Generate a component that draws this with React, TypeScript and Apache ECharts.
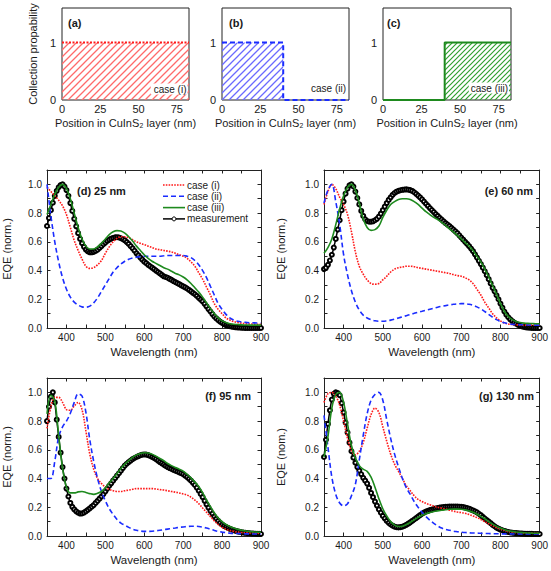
import React, { useEffect, useRef } from "react";
import * as echarts from "echarts";

// ---------- top panels: collection probability profiles ----------
const positionTicks = [0, 25, 50, 75];
const posA = [0, 83];
const probA = [1, 1];
const posB = [0, 40, 40, 83];
const probB = [1, 1, 0, 0];
const posC = [0, 40, 40, 83];
const probC = [0, 0, 1, 1];

// ---------- bottom panels: EQE spectra ----------
// simulated cases, read every 10 nm
const wavelengths = [
  350, 360, 370, 380, 390, 400, 410, 420, 430, 440,
  450, 460, 470, 480, 490, 500, 510, 520, 530, 540,
  550, 560, 570, 580, 590, 600, 610, 620, 630, 640,
  650, 660, 670, 680, 690, 700, 710, 720, 730, 740,
  750, 760, 770, 780, 790, 800, 810, 820, 830, 840,
  850, 860, 870, 880, 890, 900,
];
// measurement, read every 5 nm
const wavelengthsMeas = [
  350, 355, 360, 365, 370, 375, 380, 385, 390, 395,
  400, 405, 410, 415, 420, 425, 430, 435, 440, 445,
  450, 455, 460, 465, 470, 475, 480, 485, 490, 495,
  500, 505, 510, 515, 520, 525, 530, 535, 540, 545,
  550, 555, 560, 565, 570, 575, 580, 585, 590, 595,
  600, 605, 610, 615, 620, 625, 630, 635, 640, 645,
  650, 655, 660, 665, 670, 675, 680, 685, 690, 695,
  700, 705, 710, 715, 720, 725, 730, 735, 740, 745,
  750, 755, 760, 765, 770, 775, 780, 785, 790, 795,
  800, 805, 810, 815, 820, 825, 830, 835, 840, 845,
  850, 855, 860, 865, 870, 875, 880, 885, 890, 895,
  900,
];

// (d) 25 nm
const d25Measured = [
  0.71, 0.765, 0.82, 0.872, 0.92, 0.955, 0.98, 0.995, 1.0, 0.985,
  0.96, 0.92, 0.87, 0.815, 0.76, 0.708, 0.66, 0.62, 0.59, 0.565,
  0.545, 0.533, 0.527, 0.527, 0.53, 0.536, 0.545, 0.557, 0.57, 0.583,
  0.595, 0.606, 0.615, 0.622, 0.627, 0.631, 0.632, 0.63, 0.625, 0.618,
  0.61, 0.598, 0.585, 0.57, 0.555, 0.538, 0.52, 0.505, 0.49, 0.476,
  0.462, 0.451, 0.44, 0.43, 0.42, 0.41, 0.4, 0.39, 0.38, 0.37,
  0.36, 0.355, 0.35, 0.342, 0.335, 0.327, 0.32, 0.312, 0.305, 0.297,
  0.29, 0.283, 0.275, 0.265, 0.255, 0.245, 0.235, 0.223, 0.21, 0.198,
  0.185, 0.168, 0.15, 0.132, 0.115, 0.097, 0.08, 0.067, 0.055, 0.044,
  0.035, 0.027, 0.02, 0.016, 0.012, 0.009, 0.007, 0.005, 0.004, 0.003,
  0.002, 0.0015, 0.001, 0.0005, 0, 0, 0, 0, 0, 0,
  0,
];
const d25Case1 = [
  0.98, 0.95, 0.92, 0.89, 0.85, 0.79, 0.7, 0.61, 0.54, 0.48,
  0.43, 0.415, 0.42, 0.44, 0.47, 0.52, 0.565, 0.6, 0.625, 0.635,
  0.635, 0.628, 0.615, 0.6, 0.59, 0.58, 0.57, 0.56, 0.55, 0.545,
  0.54, 0.535, 0.53, 0.52, 0.51, 0.5, 0.485, 0.46, 0.43, 0.385,
  0.34, 0.285, 0.23, 0.17, 0.13, 0.1, 0.07, 0.055, 0.045, 0.038,
  0.034, 0.03, 0.028, 0.027, 0.026, 0.025,
];
const d25Case2 = [
  1.0, 0.78, 0.6, 0.46, 0.35, 0.27, 0.215, 0.18, 0.16, 0.147,
  0.145, 0.152, 0.175, 0.21, 0.255, 0.3, 0.345, 0.39, 0.42, 0.445,
  0.465, 0.478, 0.487, 0.493, 0.497, 0.5, 0.5, 0.5, 0.5, 0.5,
  0.503, 0.505, 0.505, 0.505, 0.505, 0.505, 0.5, 0.49, 0.47, 0.44,
  0.4, 0.35, 0.29, 0.23, 0.17, 0.13, 0.095, 0.07, 0.055, 0.047,
  0.042, 0.039, 0.037, 0.036, 0.035, 0.035,
];
const d25Case3 = [
  0.79, 0.86, 0.93, 0.98, 1.0, 0.97, 0.9, 0.8, 0.7, 0.62,
  0.57, 0.55, 0.55, 0.565, 0.59, 0.62, 0.65, 0.67, 0.678, 0.675,
  0.66, 0.635, 0.605, 0.57, 0.54, 0.51, 0.485, 0.465, 0.45, 0.435,
  0.42, 0.41, 0.395, 0.38, 0.37, 0.355, 0.335, 0.31, 0.28, 0.25,
  0.215, 0.175, 0.135, 0.1, 0.07, 0.05, 0.038, 0.03, 0.026, 0.024,
  0.022, 0.021, 0.02, 0.02, 0.02, 0.02,
];

// (e) 60 nm
const e60Measured = [
  0.41, 0.42, 0.44, 0.47, 0.51, 0.56, 0.62, 0.685, 0.75, 0.82,
  0.88, 0.935, 0.97, 0.993, 1.0, 0.985, 0.95, 0.905, 0.86, 0.815,
  0.78, 0.757, 0.745, 0.74, 0.74, 0.743, 0.75, 0.76, 0.775, 0.796,
  0.82, 0.845, 0.87, 0.892, 0.91, 0.927, 0.94, 0.949, 0.955, 0.959,
  0.962, 0.964, 0.965, 0.963, 0.96, 0.954, 0.945, 0.934, 0.922, 0.909,
  0.895, 0.88, 0.865, 0.85, 0.835, 0.821, 0.807, 0.793, 0.78, 0.767,
  0.755, 0.742, 0.73, 0.72, 0.71, 0.698, 0.685, 0.673, 0.66, 0.645,
  0.63, 0.615, 0.6, 0.585, 0.57, 0.553, 0.535, 0.513, 0.49, 0.468,
  0.445, 0.42, 0.395, 0.368, 0.34, 0.31, 0.28, 0.255, 0.228, 0.2,
  0.17, 0.142, 0.115, 0.093, 0.075, 0.06, 0.048, 0.038, 0.03, 0.022,
  0.015, 0.011, 0.008, 0.005, 0.003, 0.002, 0.001, 0.0005, 0, 0,
  0,
];
const e60Case1 = [
  0.86, 0.95, 1.0, 0.97, 0.91, 0.86, 0.79, 0.67, 0.53, 0.43,
  0.375, 0.335, 0.31, 0.305, 0.31, 0.335, 0.36, 0.39, 0.41, 0.42,
  0.425, 0.43, 0.43, 0.427, 0.42, 0.415, 0.41, 0.405, 0.4, 0.395,
  0.39, 0.385, 0.38, 0.372, 0.365, 0.36, 0.35, 0.335, 0.31, 0.27,
  0.23, 0.18, 0.14, 0.1, 0.07, 0.05, 0.035, 0.028, 0.024, 0.022,
  0.021, 0.02, 0.02, 0.02, 0.02, 0.02,
];
const e60Case2 = [
  0.87, 0.96, 1.0, 0.88, 0.72, 0.51, 0.37, 0.26, 0.18, 0.125,
  0.09, 0.07, 0.058, 0.05, 0.047, 0.047, 0.05, 0.055, 0.062, 0.07,
  0.078, 0.086, 0.094, 0.102, 0.11, 0.117, 0.124, 0.131, 0.138, 0.145,
  0.151, 0.156, 0.161, 0.165, 0.168, 0.17, 0.169, 0.165, 0.158, 0.147,
  0.133, 0.115, 0.095, 0.075, 0.058, 0.045, 0.036, 0.03, 0.026, 0.024,
  0.023, 0.022, 0.021, 0.02, 0.02, 0.02,
];
const e60Case3 = [
  0.52, 0.56, 0.62, 0.72, 0.83, 0.92, 0.98, 1.0, 0.96, 0.87,
  0.76, 0.7, 0.68, 0.685, 0.71, 0.77, 0.82, 0.86, 0.88, 0.895,
  0.9, 0.9, 0.895, 0.88, 0.86, 0.835, 0.81, 0.79, 0.77, 0.755,
  0.735, 0.715, 0.69, 0.67, 0.645, 0.62, 0.595, 0.57, 0.54, 0.5,
  0.46, 0.41, 0.355, 0.295, 0.235, 0.17, 0.115, 0.08, 0.058, 0.045,
  0.038, 0.034, 0.032, 0.031, 0.03, 0.03,
];

// (f) 95 nm
const f95Measured = [
  0.8, 0.9, 0.97, 1.0, 0.93, 0.81, 0.69, 0.58, 0.48, 0.4,
  0.33, 0.275, 0.23, 0.203, 0.185, 0.172, 0.162, 0.156, 0.157, 0.163,
  0.172, 0.182, 0.193, 0.204, 0.215, 0.23, 0.245, 0.26, 0.275, 0.292,
  0.31, 0.33, 0.35, 0.367, 0.385, 0.402, 0.42, 0.437, 0.455, 0.473,
  0.49, 0.503, 0.515, 0.525, 0.535, 0.543, 0.55, 0.556, 0.562, 0.566,
  0.568, 0.567, 0.563, 0.557, 0.55, 0.543, 0.535, 0.525, 0.515, 0.506,
  0.497, 0.488, 0.48, 0.473, 0.467, 0.461, 0.455, 0.449, 0.443, 0.437,
  0.43, 0.42, 0.41, 0.398, 0.385, 0.37, 0.355, 0.336, 0.315, 0.293,
  0.27, 0.245, 0.22, 0.197, 0.175, 0.155, 0.135, 0.12, 0.105, 0.092,
  0.08, 0.071, 0.063, 0.056, 0.05, 0.045, 0.04, 0.036, 0.032, 0.029,
  0.026, 0.024, 0.022, 0.02, 0.019, 0.018, 0.017, 0.016, 0.015, 0.015,
  0.014,
];
const f95Case1 = [
  0.75, 0.9, 0.965, 0.965, 0.93, 0.88, 0.875, 0.905, 0.93, 0.88,
  0.73, 0.57, 0.465, 0.4, 0.365, 0.34, 0.325, 0.315, 0.31, 0.31,
  0.315, 0.32, 0.325, 0.33, 0.33, 0.33, 0.33, 0.33, 0.327, 0.323,
  0.32, 0.315, 0.31, 0.305, 0.3, 0.293, 0.285, 0.27, 0.25, 0.225,
  0.195, 0.165, 0.135, 0.105, 0.08, 0.06, 0.047, 0.038, 0.032, 0.027,
  0.024, 0.022, 0.021, 0.02, 0.019, 0.019,
];
const f95Case2 = [
  0.4, 0.4, 0.52, 0.69, 0.76, 0.8, 0.855, 0.93, 0.99, 0.975,
  0.86, 0.67, 0.52, 0.4, 0.31, 0.245, 0.19, 0.15, 0.115, 0.09,
  0.075, 0.06, 0.048, 0.04, 0.035, 0.032, 0.032, 0.033, 0.036, 0.04,
  0.044, 0.048, 0.052, 0.056, 0.06, 0.063, 0.066, 0.068, 0.068, 0.066,
  0.062, 0.055, 0.047, 0.039, 0.032, 0.027, 0.023, 0.02, 0.018, 0.017,
  0.016, 0.015, 0.015, 0.014, 0.014, 0.014,
];
const f95Case3 = [
  0.85, 0.98, 0.94, 0.7, 0.47, 0.34, 0.3, 0.3, 0.307, 0.31,
  0.303, 0.295, 0.29, 0.297, 0.31, 0.335, 0.37, 0.4, 0.435, 0.47,
  0.5, 0.525, 0.548, 0.565, 0.575, 0.58, 0.578, 0.57, 0.556, 0.54,
  0.525, 0.505, 0.49, 0.477, 0.465, 0.452, 0.43, 0.405, 0.375, 0.345,
  0.3, 0.25, 0.205, 0.16, 0.125, 0.1, 0.08, 0.066, 0.055, 0.046,
  0.04, 0.035, 0.031, 0.029, 0.027, 0.026,
];

// (g) 130 nm
const g130Measured = [
  0.55, 0.67, 0.78, 0.875, 0.95, 0.99, 1.0, 0.995, 0.98, 0.925,
  0.86, 0.79, 0.72, 0.65, 0.59, 0.545, 0.51, 0.48, 0.455, 0.43,
  0.405, 0.385, 0.365, 0.335, 0.3, 0.27, 0.24, 0.212, 0.185, 0.162,
  0.14, 0.122, 0.105, 0.092, 0.08, 0.072, 0.065, 0.061, 0.06, 0.062,
  0.065, 0.071, 0.078, 0.086, 0.095, 0.105, 0.115, 0.125, 0.135, 0.145,
  0.155, 0.163, 0.17, 0.175, 0.18, 0.184, 0.188, 0.192, 0.195, 0.198,
  0.2, 0.202, 0.203, 0.204, 0.205, 0.205, 0.205, 0.205, 0.205, 0.204,
  0.203, 0.201, 0.198, 0.194, 0.19, 0.184, 0.178, 0.172, 0.165, 0.155,
  0.145, 0.133, 0.122, 0.111, 0.1, 0.089, 0.078, 0.068, 0.058, 0.051,
  0.045, 0.04, 0.035, 0.031, 0.028, 0.025, 0.023, 0.021, 0.02, 0.019,
  0.018, 0.017, 0.016, 0.015, 0.015, 0.015, 0.015, 0.014, 0.014, 0.014,
  0.014,
];
const g130Case1 = [
  0.93, 0.99, 1.0, 0.975, 0.91, 0.8, 0.68, 0.595, 0.565, 0.59,
  0.65, 0.75, 0.845, 0.89, 0.86, 0.76, 0.66, 0.57, 0.5, 0.45,
  0.4, 0.35, 0.315, 0.28, 0.255, 0.24, 0.227, 0.218, 0.208, 0.2,
  0.194, 0.188, 0.18, 0.173, 0.167, 0.163, 0.158, 0.15, 0.14, 0.128,
  0.115, 0.1, 0.085, 0.07, 0.058, 0.048, 0.04, 0.033, 0.028, 0.024,
  0.022, 0.021, 0.02, 0.02, 0.019, 0.019,
];
const g130Case2 = [
  0.84, 0.62, 0.41, 0.29, 0.23, 0.21, 0.225, 0.28, 0.36, 0.53,
  0.7, 0.85, 0.945, 0.985, 1.0, 0.945, 0.81, 0.68, 0.57, 0.48,
  0.4, 0.335, 0.29, 0.24, 0.2, 0.165, 0.135, 0.11, 0.088, 0.07,
  0.055, 0.046, 0.04, 0.034, 0.03, 0.026, 0.024, 0.022, 0.021, 0.02,
  0.019, 0.018, 0.017, 0.016, 0.016, 0.015, 0.015, 0.015, 0.014, 0.014,
  0.014, 0.014, 0.014, 0.014, 0.014, 0.014,
];
const g130Case3 = [
  0.55, 0.69, 0.89, 0.985, 1.0, 0.93, 0.78, 0.63, 0.545, 0.49,
  0.465, 0.45, 0.41, 0.34, 0.26, 0.19, 0.14, 0.1, 0.076, 0.066,
  0.068, 0.08, 0.095, 0.113, 0.13, 0.145, 0.155, 0.163, 0.17, 0.175,
  0.179, 0.183, 0.186, 0.187, 0.187, 0.186, 0.182, 0.175, 0.165, 0.152,
  0.137, 0.12, 0.1, 0.083, 0.067, 0.055, 0.045, 0.037, 0.032, 0.028,
  0.025, 0.023, 0.021, 0.02, 0.019, 0.019,
];

const seriesNames = ["case (i)", "case (ii)", "case (iii)", "measurement"];
const panelTitles = ["(d) 25 nm", "(e) 60 nm", "(f) 95 nm", "(g) 130 nm"];
const eqeNames = ["EQE (norm.)", "EQE (norm.)", "EQE (norm.)", "EQE (nom.)"];

const FONT = '"Liberation Sans", Arial, Helvetica, sans-serif';
const TXT = "#1a1a1a";
const RED = "#ff1a1a";
const BLUE = "#1a2cff";
const GREEN = "#1e8a1e";
const DOT = [1.6, 1.2];
const DASH = [5, 3];

function hatch(color: string, s: number, w: number) {
  const svg =
    `<svg xmlns="http://www.w3.org/2000/svg" width="${s}" height="${s}">` +
    `<path d="M0 ${s} L${s} 0 M${-s / 2} ${s / 2} L${s / 2} ${-s / 2} M${s / 2} ${s * 1.5} L${s * 1.5} ${s / 2}" stroke="${color}" stroke-width="${w}" fill="none"/></svg>`;
  return {
    image: "data:image/svg+xml;charset=utf-8," + encodeURIComponent(svg),
    repeat: "repeat",
    imageWidth: s,
    imageHeight: s,
  };
}

const zip = (xs: number[], ys: number[]) => xs.map((x, i) => [x, ys[i]]);

export default function App() {
  const ref = useRef<HTMLDivElement>(null);
  useEffect(() => {
    if (!ref.current) return;
    const chart = echarts.init(ref.current, null, { renderer: "svg" });

    const topGrids = [
      { left: 62, top: 8, width: 127, height: 92 },
      { left: 222, top: 8, width: 127, height: 92 },
      { left: 383, top: 8, width: 128, height: 92 },
    ];
    const botGrids = [
      { left: 45, top: 170, width: 216, height: 158 },
      { left: 324, top: 170, width: 217, height: 158 },
      { left: 45, top: 378, width: 216, height: 158 },
      { left: 324, top: 378, width: 217, height: 158 },
    ];
    const grid: any[] = [
      ...topGrids.map((g) => ({ ...g, show: true, borderColor: "#222", borderWidth: 1, containLabel: false })),
      ...botGrids.map((g) => ({ ...g, containLabel: false })),
    ];

    const tickStyle = { inside: true, length: 3.5, lineStyle: { color: "#222", width: 1 } };
    const lineAx = { show: true, onZero: false, lineStyle: { color: "#222", width: 1 } };

    const xAxis: any[] = [];
    const yAxis: any[] = [];
    for (let i = 0; i < 3; i++) {
      xAxis.push({
        type: "value", gridIndex: i, min: 0, max: 83, interval: 25,
        axisLine: { show: false }, axisTick: { show: false }, splitLine: { show: false },
        axisLabel: {
          fontSize: 11, color: TXT, fontFamily: FONT, margin: 3,
          formatter: (v: number) => (positionTicks.includes(v) ? String(v) : ""),
        },
        name: "Position in CuInS₂ layer (nm)", nameLocation: "middle", nameGap: 17,
        nameTextStyle: { fontSize: 11, color: TXT, fontFamily: FONT },
      });
      yAxis.push({
        type: "value", gridIndex: i, min: 0, max: 1.6, interval: 1,
        axisLine: { show: false }, axisTick: { show: false }, splitLine: { show: false },
        axisLabel: {
          fontSize: 11, color: TXT, fontFamily: FONT, margin: 6,
          formatter: (v: number) => (v === 0 || v === 1 ? String(v) : ""),
        },
        name: i === 0 ? "Collection propability" : "", nameLocation: "middle", nameGap: 24,
        nameTextStyle: { fontSize: 11, color: TXT, fontFamily: FONT },
      });
    }
    const xFmt = (v: number) => (v % 100 === 0 ? String(v) : "");
    const yFmt = (v: number) => {
      const r = Math.round(v * 10);
      return r % 2 === 0 && r <= 10 ? (r / 10).toFixed(1) : "";
    };
    for (let k = 0; k < 4; k++) {
      xAxis.push({
        type: "value", gridIndex: 3 + k, min: 350, max: 900, interval: 50,
        axisLine: lineAx, axisTick: tickStyle, splitLine: { show: false },
        axisLabel: { fontSize: 10, color: TXT, fontFamily: FONT, margin: 4, formatter: xFmt },
        name: "Wavelength (nm)", nameLocation: "middle", nameGap: 18,
        nameTextStyle: { fontSize: 11.5, color: TXT, fontFamily: FONT },
      });
      yAxis.push({
        type: "value", gridIndex: 3 + k, min: 0, max: 1.1, interval: 0.1,
        axisLine: lineAx, axisTick: tickStyle, splitLine: { show: false },
        axisLabel: { fontSize: 10, color: TXT, fontFamily: FONT, margin: 5, formatter: yFmt },
        name: eqeNames[k], nameLocation: "middle", nameGap: k % 2 === 0 ? 35 : 38,
        nameTextStyle: { fontSize: 11, color: TXT, fontFamily: FONT },
      });
    }
    for (let k = 0; k < 4; k++) {
      xAxis.push({
        type: "value", gridIndex: 3 + k, position: "top", min: 350, max: 900, interval: 50,
        axisLine: lineAx, axisTick: tickStyle, splitLine: { show: false }, axisLabel: { show: false },
      });
      yAxis.push({
        type: "value", gridIndex: 3 + k, position: "right", min: 0, max: 1.1, interval: 0.1,
        axisLine: lineAx, axisTick: tickStyle, splitLine: { show: false }, axisLabel: { show: false },
      });
    }

    const panels = [
      [d25Measured, d25Case1, d25Case2, d25Case3],
      [e60Measured, e60Case1, e60Case2, e60Case3],
      [f95Measured, f95Case1, f95Case2, f95Case3],
      [g130Measured, g130Case1, g130Case2, g130Case3],
    ];

    const series: any[] = [];
    panels.forEach((p, k) => {
      const ax = { xAxisIndex: 3 + k, yAxisIndex: 3 + k };
      series.push({
        ...ax, type: "line", name: seriesNames[3], data: zip(wavelengthsMeas, p[0]), smooth: 0.3,
        symbol: "emptyCircle", symbolSize: 4, showSymbol: true,
        itemStyle: { color: "#000", borderWidth: 1 },
        lineStyle: { color: "#000", width: 1.5 }, z: 2,
      });
      series.push({
        ...ax, type: "line", name: seriesNames[0], data: zip(wavelengths, p[1]), smooth: 0.35,
        symbol: "none", lineStyle: { color: RED, width: 1.6, type: DOT }, z: 3,
      });
      series.push({
        ...ax, type: "line", name: seriesNames[1], data: zip(wavelengths, p[2]), smooth: 0.35,
        symbol: "none", lineStyle: { color: BLUE, width: 1.6, type: DASH }, z: 3,
      });
      series.push({
        ...ax, type: "line", name: seriesNames[2], data: zip(wavelengths, p[3]), smooth: 0.35,
        symbol: "none", lineStyle: { color: GREEN, width: 1.6 }, z: 4,
      });
    });

    series.push({
      type: "line", name: "profile (i)", xAxisIndex: 0, yAxisIndex: 0, data: zip(posA, probA),
      symbol: "none", lineStyle: { color: RED, width: 2, type: [2, 1.5] },
      areaStyle: { color: hatch("#ff6a6a", 7, 1.3), opacity: 1 },
    });
    series.push({
      type: "line", name: "profile (ii)", xAxisIndex: 1, yAxisIndex: 1, data: zip(posB, probB),
      symbol: "none", lineStyle: { color: BLUE, width: 2, type: DASH },
      areaStyle: { color: hatch("#6a6aff", 7, 1.3), opacity: 1 },
    });
    series.push({
      type: "line", name: "profile (iii)", xAxisIndex: 2, yAxisIndex: 2, data: zip(posC, probC),
      symbol: "none", lineStyle: { color: GREEN, width: 2 },
      areaStyle: { color: hatch("#2ea02e", 5, 1.2), opacity: 1 },
    });

    const txt = (text: string, x: number, y: number, opts: any = {}) => ({
      type: "text", x, y, z: 100,
      style: {
        text, fontSize: 11, fontFamily: FONT, fill: TXT,
        align: "left", verticalAlign: "middle", ...opts,
      },
    });

    // legend drawn by hand in panel (d)
    const legendStyles = [
      { stroke: RED, lineWidth: 1.6, lineDash: DOT },
      { stroke: BLUE, lineWidth: 1.6, lineDash: DASH },
      { stroke: GREEN, lineWidth: 1.6 },
      { stroke: "#000", lineWidth: 1.5 },
    ];
    const legendGraphics: any[] = [];
    seriesNames.forEach((name, i) => {
      const y = 185 + i * 11.3;
      legendGraphics.push({
        type: "line", z: 100, shape: { x1: 163, y1: y, x2: 185, y2: y }, style: legendStyles[i],
      });
      if (i === 3) {
        legendGraphics.push({
          type: "circle", z: 101, shape: { cx: 174, cy: y, r: 2 },
          style: { fill: "#fff", stroke: "#000", lineWidth: 1 },
        });
      }
      legendGraphics.push(txt(name, 187, y, { fontSize: 10 }));
    });

    const graphic = [
      txt("(a)", 68, 23, { fontWeight: "bold" }),
      txt("(b)", 229, 23, { fontWeight: "bold" }),
      txt("(c)", 387, 23, { fontWeight: "bold" }),
      txt("case (i)", 187.5, 89, { fontSize: 10, align: "right", backgroundColor: "#fff", padding: [1, 1, 0, 3] }),
      txt("case (ii)", 346, 88, { fontSize: 10, align: "right" }),
      txt("case (iii)", 509, 88, { fontSize: 10, align: "right", backgroundColor: "#fff", padding: [1, 1, 0, 2] }),
      txt(panelTitles[0], 77, 190.5, { fontWeight: "bold" }),
      txt(panelTitles[1], 533, 190.5, { fontWeight: "bold", align: "right" }),
      txt(panelTitles[2], 251, 395.5, { fontWeight: "bold", align: "right" }),
      txt(panelTitles[3], 534, 395.5, { fontWeight: "bold", align: "right" }),
      ...legendGraphics,
    ];

    chart.setOption({
      animation: false,
      backgroundColor: "#fff",
      textStyle: { fontFamily: FONT },
      grid,
      xAxis,
      yAxis,
      series,
      graphic,
    });
    return () => chart.dispose();
  }, []);

  return (
    <div
      ref={ref}
      style={{ position: "absolute", left: 0, top: 0, width: 551, height: 571, background: "#fff" }}
    />
  );
}
